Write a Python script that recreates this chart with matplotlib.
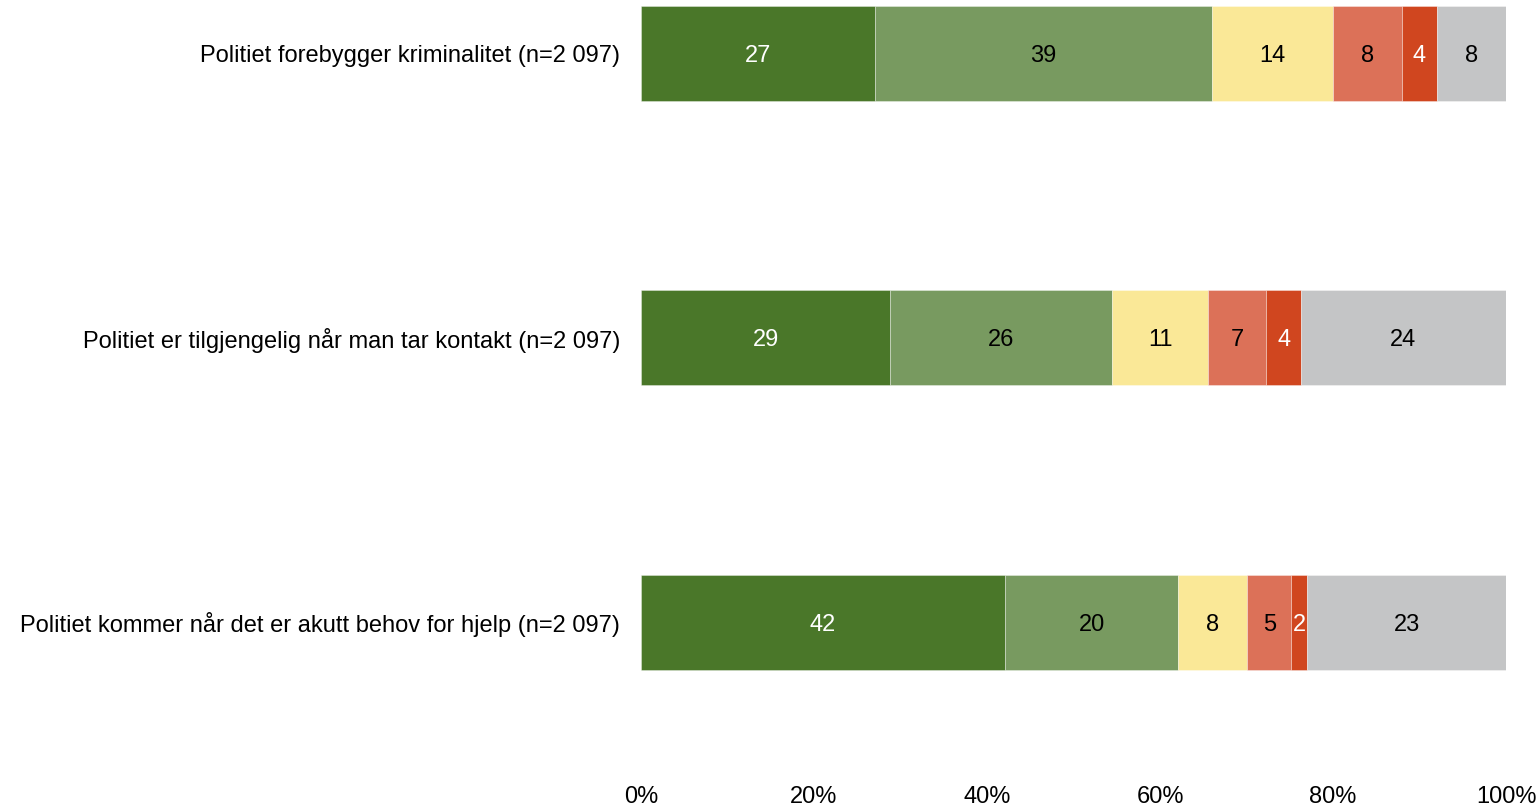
import matplotlib.pyplot as plt
import numpy as np

plt.rcParams['font.family'] = ['Liberation Sans', 'DejaVu Sans']

categories = [
    'Politiet forebygger kriminalitet (n=2 097)',
    'Politiet er tilgjengelig når man tar kontakt (n=2 097)',
    'Politiet kommer når det er akutt behov for hjelp (n=2 097)',
]
# shares per answer category, left to right
s1 = [27.0, 28.8, 42.1]
s2 = [39.0, 25.7, 20.0]
s3 = [14.0, 11.0, 8.0]
s4 = [8.0, 6.8, 5.1]
s5 = [4.0, 4.0, 1.85]
s6 = [8.0, 23.7, 23.0]
labels = [
    [27, 29, 42],
    [39, 26, 20],
    [14, 11, 8],
    [8, 7, 5],
    [4, 4, 2],
    [8, 24, 23],
]
colors = ['#4a7729', '#789a60', '#fae897', '#dc7158', '#d0461f', '#c4c5c6']
text_colors = ['white', 'black', 'black', 'black', 'white', 'black']
tick_labels = ['0%', '20%', '40%', '60%', '80%', '100%']

fig = plt.figure(figsize=(15.4, 8.08), dpi=100)
ax = fig.add_axes([641 / 1540, 1 - 783 / 808, 865 / 1540, 777 / 808])

y = np.arange(len(categories))
left = np.zeros(len(categories))
for i, vals in enumerate([s1, s2, s3, s4, s5, s6]):
    vals = np.array(vals)
    ax.barh(y, vals, left=left, height=0.333, color=colors[i],
            edgecolor=(1, 1, 1, 0.4), linewidth=0.6)
    for j in range(len(categories)):
        ax.text(left[j] + vals[j] / 2, y[j], str(labels[i][j]),
                ha='center', va='center_baseline', fontsize=17,
                color=text_colors[i])
    left += vals

ax.set_xlim(0, 100)
ax.set_ylim(2.565, -0.1667)
ax.set_yticks(y)
ax.set_yticklabels(categories, fontsize=17, va='center_baseline')
ax.set_xticks([0, 20, 40, 60, 80, 100])
ax.set_xticklabels(tick_labels, fontsize=17)
ax.tick_params(length=0)
ax.tick_params(axis='y', pad=15)
ax.tick_params(axis='x', pad=2)
for sp in ax.spines.values():
    sp.set_visible(False)

fig.savefig('out.png', dpi=100)
